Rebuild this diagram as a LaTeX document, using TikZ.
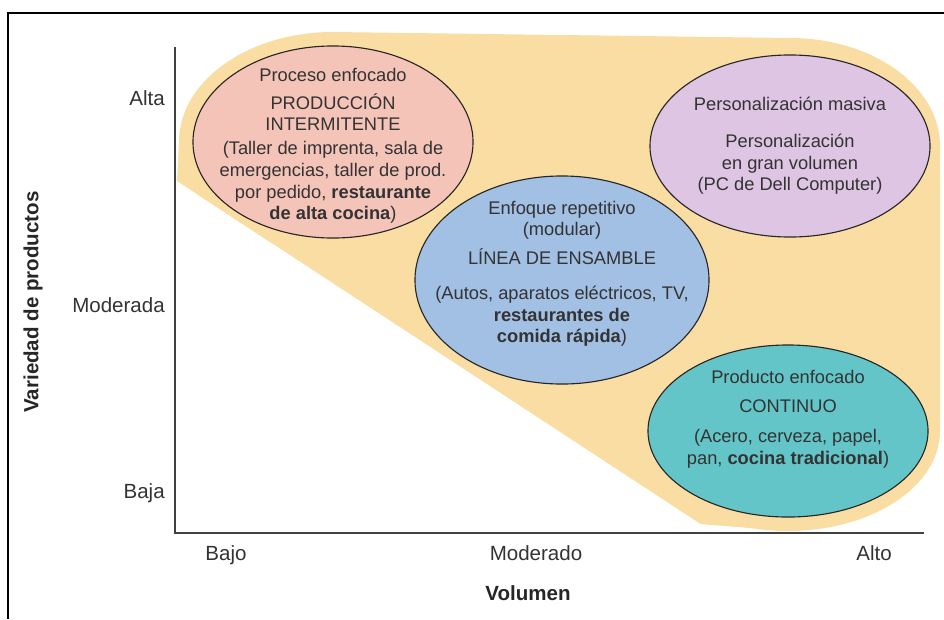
\documentclass[tikz,border=0pt]{standalone}
\usepackage{fontspec}
\setmainfont{Liberation Sans}
\usetikzlibrary{shapes.geometric}
\definecolor{hullfill}{RGB}{250,221,162}
\definecolor{pinkfill}{RGB}{245,196,185}
\definecolor{lilacfill}{RGB}{221,197,227}
\definecolor{bluefill}{RGB}{162,191,228}
\definecolor{tealfill}{RGB}{100,197,200}

\begin{document}
\begin{tikzpicture}[x=0.025cm, y=-0.025cm,
    stage/.style={ellipse, draw=black!85, line width=0.8pt, inner sep=0pt},
    stagetext/.style={align=center, inner sep=0pt, text=black!80, font=\fontsize{13}{15.3}\selectfont},
    axislabel/.style={text=black!80, inner sep=0pt, font=\fontsize{14.6}{17}\selectfont},
    axistitle/.style={text=black!85, inner sep=0pt, font=\bfseries\fontsize{14.6}{17}\selectfont}]
    \useasboundingbox (0, 0) rectangle (944, 619);

    % shaded area behind the processes
    \begin{scope}
        \clip (150, 163.3) -- (720, 536.7) -- (960, 536.7) -- (960, 0) -- (150, 0) -- cycle;
        \fill[hullfill] (333, 142) ellipse [x radius=154, y radius=110];
        \fill[hullfill] (790, 146) ellipse [x radius=150, y radius=108];
        \fill[hullfill] (788, 431) ellipse [x radius=152, y radius=100];
        \fill[hullfill] (333, 32) -- (790, 38) -- (940, 146) -- (940, 431) -- (788, 531)
            -- (700, 524) -- (177, 181) -- (179, 142) -- cycle;
    \end{scope}

    % frame and axes
    \coordinate (fbl) at (8, 619);
    \coordinate (ftl) at (8, 13);
    \coordinate (ftr) at (944, 13);
    \draw[line width=1.2pt] (fbl) -- (ftl) -- (ftr);

    \coordinate (ytop) at (175, 47);
    \coordinate (origin) at (175, 533);
    \coordinate (xend) at (924, 533);
    \draw[line width=1pt, black!75] (ytop) -- (origin) -- (xend);

    \node at (165, 105) [axislabel, anchor=base east] (alta) {Alta};
    \node at (165, 312) [axislabel, anchor=base east] (moderada) {Moderada};
    \node at (165, 498) [axislabel, anchor=base east] (baja) {Baja};
    \node at (226, 560) [axislabel, anchor=base] (bajo) {Bajo};
    \node at (536, 560) [axislabel, anchor=base] (moderado) {Moderado};
    \node at (874, 560) [axislabel, anchor=base] (alto) {Alto};
    \node at (528, 600) [axistitle, anchor=base] (volumen) {Volumen};
    \node at (33, 302) [axistitle, rotate=90] (variedad) {Variedad de productos};

    % the four processes
    \node at (333, 142) [stage, fill=pinkfill, minimum width=7cm, minimum height=4.8cm] (intermit) {};
    \node at (790, 146) [stage, fill=lilacfill, minimum width=7cm, minimum height=4.55cm] (masiva) {};
    \node at (562, 280) [stage, fill=bluefill, minimum width=7.35cm, minimum height=5.2cm] (ensamble) {};
    \node at (788, 431) [stage, fill=tealfill, minimum width=7cm, minimum height=4.3cm] (continuo) {};

    \node at ([yshift=-0.09cm]intermit.center) [stagetext] (intermit-t) {Proceso enfocado\\[4.6pt]
        PRODUCCIÓN\\ INTERMITENTE\\[2pt]
        (Taller de imprenta, sala de\\ emergencias, taller de prod.\\
        por pedido, \textbf{restaurante}\\ \textbf{de alta cocina})};
    \node at (masiva.center) [stagetext] (masiva-t) {Personalización masiva\\[11pt]
        Personalización\\ en gran volumen\\ (PC de Dell Computer)};
    \node at ([yshift=0.15cm]ensamble.center) [stagetext] (ensamble-t) {Enfoque repetitivo\\
        (modular)\\[5.3pt] LÍNEA DE ENSAMBLE\\[9.6pt]
        (Autos, aparatos eléctricos, TV,\\ \textbf{restaurantes de}\\ \textbf{comida rápida})};
    \node at ([yshift=0.3cm]continuo.center) [stagetext] (continuo-t) {Producto enfocado\\[6pt]
        CONTINUO\\[6pt] (Acero, cerveza, papel,\\ pan, \textbf{cocina tradicional})};

\end{tikzpicture}
\end{document}
